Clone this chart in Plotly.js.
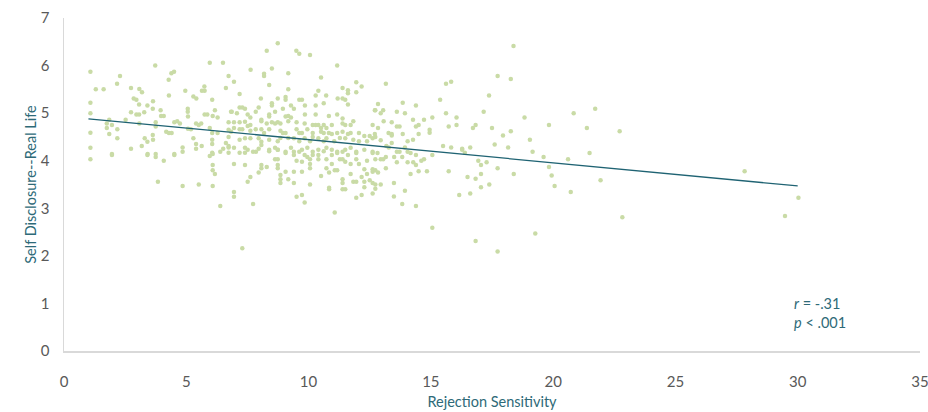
<!DOCTYPE html>
<html>
<head>
<meta charset="utf-8">
<script src="https://cdn.plot.ly/plotly-3.0.1.min.js"></script>
<style>html,body{margin:0;padding:0;background:#fff;}#chart{width:928px;height:412px;}</style>
</head>
<body>
<div id="chart"></div>
<script>
// Rejection Sensitivity (x) and Self Disclosure--Real Life (y)
const rsX = [
1.08,3.73,5.96,6.50,2.29,2.17,4.39,4.50,4.28,6.73,1.30,1.62,2.74,3.08,3.19,4.29,4.96,5.74,5.64,5.75,6.62,2.85,2.96,1.08,3.07,3.41,3.64,3.63,5.29,5.41,6.06,1.08,2.74,2.96,3.07,3.28,3.95,3.97,4.08,5.06,5.06,5.07,5.75,5.86,6.17,6.08,6.28,6.83,1.85,2.52,1.75,1.96,1.75,2.18,1.08,1.85,2.18,1.08,1.96,2.74,3.08,3.30,3.18,3.41,3.63,3.64,3.75,3.75,3.42,3.75,4.18,4.29,4.40,4.51,4.63,4.74,4.85,4.85,4.51,5.07,5.19,5.29,5.40,5.51,5.61,5.40,5.40,5.63,5.96,6.06,6.06,6.06,6.06,6.39,6.28,6.51,6.62,6.73,6.73,6.83,
1.08,1.96,3.41,3.75,4.08,4.51,3.84,4.85,5.51,6.08,6.08,6.08,6.17,5.96,6.08,6.39,
8.74,8.29,9.50,9.62,10.06,7.63,8.50,8.18,8.18,9.17,11.17,6.95,8.39,10.51,9.17,11.39,11.61,11.61,11.95,11.95,12.17,7.18,8.05,8.74,9.06,9.06,9.62,9.73,10.29,10.40,10.72,11.19,11.39,11.50,11.61,8.50,8.50,9.28,9.85,10.62,10.29,7.18,7.29,7.40,7.96,8.95,9.40,6.86,7.07,7.51,7.62,7.84,8.39,8.39,8.63,9.06,9.17,9.28,9.85,10.29,10.83,11.17,11.39,11.83,6.73,6.95,6.95,7.18,7.40,7.51,7.62,8.07,8.07,8.29,8.50,8.63,8.74,8.85,9.17,9.51,9.84,10.17,10.29,10.40,10.62,10.51,10.73,10.95,11.39,11.50,11.72,12.62,12.71,
7.18,7.29,7.62,7.84,8.07,8.18,8.39,8.85,8.95,9.06,9.51,9.62,9.73,9.95,10.17,10.51,10.62,10.83,10.95,11.17,11.39,11.61,11.72,12.06,12.28,12.50,12.71,
6.73,7.18,7.40,7.62,7.96,8.07,8.39,8.74,8.85,9.17,9.40,9.62,9.84,10.06,10.17,10.40,10.62,10.73,11.05,11.28,11.50,11.83,12.06,12.39,12.62,
6.73,6.95,7.40,7.51,7.73,7.96,8.07,8.39,8.63,8.74,9.06,9.28,9.40,9.73,9.95,10.17,10.40,10.73,10.95,11.17,11.50,11.72,11.95,12.28,12.62,
6.73,7.18,7.40,7.85,8.39,8.74,9.06,9.40,9.62,9.84,9.95,10.17,10.40,10.62,10.95,11.17,11.39,11.61,11.95,12.62,
6.95,7.40,8.07,8.07,8.29,8.63,8.74,8.74,9.51,9.73,10.06,10.06,10.40,10.73,10.95,11.28,11.39,11.50,11.72,11.95,12.06,12.39,12.62,12.28,
7.96,7.62,7.51,8.74,8.85,8.85,8.85,9.06,9.17,9.40,9.40,9.73,10.06,10.06,10.51,10.73,10.84,10.84,10.84,11.07,11.17,11.39,11.39,11.39,11.50,11.72,11.83,11.95,12.17,12.28,12.39,12.50,12.62,12.28,12.62,
6.95,6.95,7.73,9.51,9.73,9.84,11.07,11.95,12.17,12.62,7.29,
18.38,17.73,18.27,13.16,15.62,15.83,17.38,15.38,12.84,13.85,14.39,12.73,13.05,12.95,13.61,13.94,15.62,17.16,12.84,13.07,13.40,13.61,13.72,14.27,14.39,14.50,14.72,15.06,16.05,15.73,16.05,14.95,14.95,16.72,16.83,17.50,18.27,17.95,13.27,13.40,13.40,13.85,14.50,12.73,12.95,14.05,14.27,13.40,13.18,13.28,13.94,15.50,15.83,16.28,16.61,17.61,18.16,12.82,13.61,13.72,14.05,14.17,
12.73,12.95,13.05,13.16,13.50,13.61,13.83,14.05,14.39,14.28,14.39,14.61,14.72,15.06,12.73,12.84,13.16,14.17,14.50,14.84,15.73,12.73,12.95,12.73,13.49,13.94,13.49,13.83,14.39,15.06,16.16,16.61,16.50,16.83,17.05,17.05,17.39,16.94,17.05,17.28,17.73,18.39,16.83,17.73,16.28,16.39,
18.83,20.84,21.72,19.83,21.38,22.72,19.05,19.16,21.49,
19.61,20.61,19.83,19.94,20.06,20.72,21.94,22.83,19.27,
27.83,30.03,29.48
];
const sdY = [
5.87,6.00,6.06,6.06,5.78,5.62,5.84,5.87,5.70,5.78,5.50,5.50,5.53,5.51,5.44,5.37,5.47,5.56,5.47,5.47,5.53,5.31,5.28,5.22,5.18,5.16,5.25,5.09,5.35,5.31,5.28,5.00,5.02,4.97,4.97,5.02,5.06,4.94,4.94,5.09,5.03,4.93,4.97,4.97,5.06,4.94,4.91,5.03,4.86,4.86,4.78,4.75,4.69,4.66,4.59,4.56,4.47,4.27,4.14,4.25,4.78,4.47,4.31,4.40,4.54,4.44,4.81,4.72,4.14,4.14,4.61,4.58,4.58,4.81,4.83,4.78,4.28,4.19,4.14,4.67,4.66,4.47,4.78,4.75,4.78,4.35,4.25,4.31,4.69,4.58,4.44,4.35,4.17,4.19,4.58,4.25,4.37,4.28,4.65,4.61,
4.03,4.12,4.12,4.08,4.00,4.12,3.56,3.47,3.50,3.47,3.91,3.80,3.72,4.10,4.14,3.05,
6.47,6.31,6.31,6.25,6.22,5.91,5.94,5.83,5.78,5.84,6.00,5.66,5.59,5.75,5.50,5.53,5.48,5.42,5.65,5.44,5.56,5.40,5.31,5.31,5.34,5.28,5.28,5.28,5.37,5.47,5.37,5.31,5.31,5.28,5.18,5.21,5.16,5.16,5.16,5.21,5.16,5.12,5.12,5.09,5.12,5.09,5.09,5.03,5.00,4.97,4.91,5.03,4.97,4.93,5.03,4.93,4.94,4.91,4.97,4.97,4.94,4.97,4.89,4.83,4.81,4.81,4.69,4.81,4.82,4.73,4.75,4.86,4.83,4.78,4.81,4.78,4.81,4.78,4.83,4.81,4.78,4.75,4.75,4.75,4.75,4.69,4.69,4.75,4.78,4.75,4.75,4.75,5.06,
4.66,4.66,4.63,4.66,4.66,4.58,4.66,4.63,4.58,4.58,4.66,4.58,4.58,4.66,4.58,4.61,4.58,4.58,4.56,4.58,4.61,4.56,4.58,4.58,4.52,4.52,4.56,
4.50,4.44,4.47,4.47,4.47,4.40,4.44,4.41,4.48,4.48,4.47,4.41,4.47,4.41,4.50,4.47,4.41,4.47,4.41,4.48,4.47,4.44,4.41,4.41,4.47,
4.31,4.27,4.27,4.23,4.19,4.25,4.33,4.23,4.27,4.23,4.19,4.27,4.19,4.23,4.27,4.19,4.23,4.27,4.23,4.19,4.23,4.27,4.19,4.23,4.19,
4.17,4.17,4.17,4.19,4.20,4.23,4.16,4.12,4.19,4.12,4.08,4.12,4.12,4.20,4.12,4.16,4.19,4.12,4.16,4.16,
3.93,3.91,3.91,3.84,3.87,4.03,4.03,3.91,4.00,3.98,4.03,3.93,4.03,4.03,3.93,4.03,4.03,3.98,3.93,4.03,3.93,4.00,3.82,3.82,
3.75,3.66,3.56,3.84,3.70,3.61,3.53,3.77,3.61,3.77,3.53,3.77,3.84,3.50,3.68,3.84,3.75,3.43,3.40,3.80,3.80,3.61,3.53,3.40,3.40,3.72,3.56,3.56,3.66,3.56,3.72,3.59,3.77,3.44,3.53,
3.34,3.24,3.09,3.24,3.28,3.12,2.91,3.22,3.28,3.31,2.16,
6.41,5.78,5.72,5.62,5.62,5.66,5.37,5.28,5.19,5.22,5.16,5.06,5.06,5.00,5.03,5.00,5.00,5.03,4.69,4.83,4.81,4.72,4.72,4.86,4.72,4.75,4.86,4.91,4.91,4.72,4.75,4.65,4.59,4.69,4.75,4.69,4.62,4.53,4.58,4.56,4.53,4.56,4.56,4.50,4.43,4.41,4.44,4.37,4.31,4.28,4.28,4.31,4.28,4.25,4.28,4.34,4.28,4.16,4.19,4.19,4.19,4.16,
4.03,4.03,4.03,4.08,4.08,3.97,4.08,3.97,4.12,3.97,3.91,4.00,4.03,4.12,3.80,3.75,3.84,3.72,3.78,3.78,3.78,3.50,3.50,3.41,3.53,3.37,3.25,3.09,3.05,2.59,3.28,3.31,3.66,3.62,3.72,3.44,3.50,4.00,3.91,3.97,3.84,3.72,2.31,2.09,4.23,4.17,
4.91,5.00,5.09,4.75,4.69,4.62,4.44,4.19,4.16,
4.08,4.03,3.87,3.69,3.47,3.34,3.59,2.81,2.47,
3.78,3.22,2.84
];
// Linear trend line end points
const trendX = [1, 30];
const trendY = [4.88, 3.47];
const xTicks = [0, 5, 10, 15, 20, 25, 30, 35];
const yTicks = [0, 1, 2, 3, 4, 5, 6, 7];

const titleColor = '#2e6a78';
const tickColor = '#595959';
const font = 'Lato, "Open Sans", sans-serif';

const data = [
  {x: rsX, y: sdY, type: 'scatter', mode: 'markers',
   marker: {color: '#c9dba6', size: 4.5}, hoverinfo: 'x+y'},
  {x: trendX, y: trendY, type: 'scatter', mode: 'lines',
   line: {color: '#1f6373', width: 1.3}, hoverinfo: 'skip'}
];

const layout = {
  width: 928, height: 412,
  margin: {l: 64, r: 8, t: 18, b: 61},
  paper_bgcolor: '#ffffff', plot_bgcolor: '#ffffff',
  showlegend: false,
  font: {family: font, size: 14, color: tickColor},
  xaxis: {
    range: [0, 35.001], tickvals: xTicks, ticktext: xTicks.map(String),
    showgrid: false, zeroline: false, showline: true, linecolor: '#d9d9d9', linewidth: 1.5,
    ticks: '', ticklabelstandoff: 16, ticklabeloverflow: 'allow',
    tickfont: {family: font, size: 15, color: tickColor},
    title: {text: 'Rejection Sensitivity', font: {family: font, size: 14.5, color: titleColor}, standoff: 8}
  },
  yaxis: {
    range: [0, 7], tickvals: yTicks, ticktext: yTicks.map(String),
    showgrid: false, zeroline: false, showline: true, linecolor: '#d9d9d9', linewidth: 1.5,
    ticks: '', ticklabelstandoff: 10,
    tickfont: {family: font, size: 15, color: tickColor},
    title: {text: 'Self Disclosure--Real Life', font: {family: font, size: 14.5, color: titleColor}, standoff: 0}
  },
  annotations: [{
    xref: 'x', yref: 'y', x: 29.75, y: 0.79, xanchor: 'left', yanchor: 'middle', align: 'left',
    showarrow: false, text: '<i>r</i> = -.31<br><i>p</i> &lt; .001',
    font: {family: font, size: 14.5, color: titleColor}
  }]
};

Plotly.newPlot('chart', data, layout, {displayModeBar: false, staticPlot: true});
</script>
</body>
</html>
